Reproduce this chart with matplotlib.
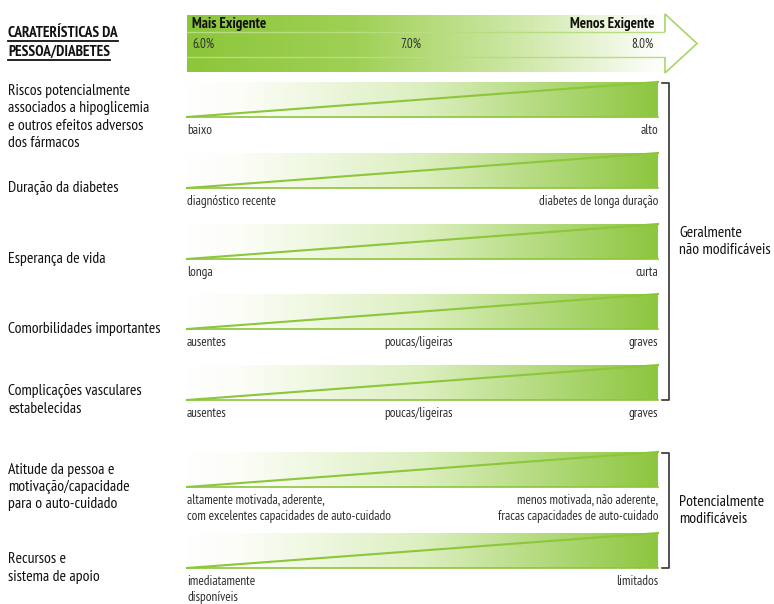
import numpy as np
import matplotlib
matplotlib.use("Agg")
import matplotlib.pyplot as plt
from matplotlib import font_manager as fm
from matplotlib.colors import LinearSegmentedColormap
from matplotlib.patches import Polygon

# ---- data ----
title_lines = ["CARATERÍSTICAS DA", "PESSOA/DIABETES"]
scale_left = "Mais Exigente"
scale_right = "Menos Exigente"
hba1c = [6.0, 7.0, 8.0]

row_labels = [
    "Riscos potencialmente\nassociados a hipoglicemia\ne outros efeitos adversos\ndos fármacos",
    "Duração da diabetes",
    "Esperança de vida",
    "Comorbilidades importantes",
    "Complicações vasculares\nestabelecidas",
    "Atitude da pessoa e\nmotivação/capacidade\npara o auto-cuidado",
    "Recursos e\nsistema de apoio",
]
low_labels = [
    "baixo", "diagnóstico recente", "longa", "ausentes", "ausentes",
    "altamente motivada, aderente,\ncom excelentes capacidades de auto-cuidado",
    "imediatamente\ndisponíveis",
]
mid_labels = ["", "", "", "poucas/ligeiras", "poucas/ligeiras", "", ""]
high_labels = [
    "alto", "diabetes de longa duração", "curta", "graves", "graves",
    "menos motivada, não aderente,\nfracas capacidades de auto-cuidado",
    "limitados",
]
group_labels = ["Geralmente\nnão modificáveis", "Potencialmente\nmodificáveis"]
group_rows = [(0, 4), (5, 6)]


# ---- pick a narrow font with regular and bold faces, if there is one ----
def _w(f):
    w = f.weight
    if isinstance(w, str):
        w = {"normal": 400, "regular": 400, "book": 400, "bold": 700}.get(w.lower(), 0)
    return w


groups = {}
for f in fm.fontManager.ttflist:
    n = f.name
    if ("Narrow" in n or "Condensed" in n) and "Mono" not in n and "Serif" not in n:
        groups.setdefault(n, []).append(f)
    elif n in ("DejaVu Sans", "Noto Sans", "Open Sans") and f.stretch in ("condensed", "semi-condensed"):
        groups.setdefault(n + "|c", []).append(f)


def _score(item):
    name, fl = item
    ws = [_w(f) for f in fl if f.style == "normal"]
    s = 2 * (400 in ws) + (700 in ws) + 0.5 * ("Sans" in name) + 0.2 * ("Narrow" in name)
    return s


family, stretch = "DejaVu Sans", "normal"
if groups:
    best = max(groups.items(), key=_score)[0]
    if best.endswith("|c"):
        family, stretch = best[:-2], "condensed"
    else:
        family = best
plt.rcParams['font.family'] = [family, 'DejaVu Sans']
plt.rcParams['font.stretch'] = stretch

# ---- layout (pixels) ----
W, H = 774, 604
bar_x0, bar_x1 = 187, 658
bar_h = 35
bar_tops = [82, 153, 224, 294, 365, 452, 533]
arrow_x0, arrow_x1, arrow_tip = 187, 665, 697
arrow_top, arrow_bot = 15, 72
tick_x = [192, 411, 653]
tick_ha = ["left", "center", "right"]

green = "#8dc63f"
line_green = "#8cc63a"
ink = "#111111"
grey_ink = "#2e2e2e"
cmap_bar = LinearSegmentedColormap.from_list(
    "bar", [(0, "#ffffff"), (0.12, "#fbfdf6"), (0.5, "#dcefc0"), (1, green)])
cmap_arrow = LinearSegmentedColormap.from_list(
    "arr", [(0, "#8cc63a"), (0.35, "#9fd055"), (0.7, "#cfe8a8"), (1, "#ffffff")])

fig = plt.figure(figsize=(W / 100, H / 100), dpi=100)
ax = fig.add_axes([0, 0, 1, 1])
renderer = fig.canvas.get_renderer()


def fit_size(text, width, weight="normal", cap=None):
    # font size whose rendered width matches the width
    t = fig.text(0, 0, text, fontsize=10, fontweight=weight)
    w = t.get_window_extent(renderer).width
    t.remove()
    s = 10 * width / w
    return min(s, cap) if cap else s


fs_row = fit_size("associados a hipoglicemia", 142, cap=11.5)
fs_small = fit_size("diabetes de longa duração", 120, cap=10)
fs_group = fit_size("Potencialmente", 85, cap=12.5)
fs_arrow = fit_size("Mais Exigente", 75, weight="bold", cap=11)
fs_title = fit_size("CARATERÍSTICAS DA", 120, weight="bold", cap=11)
fs_tick = fit_size("6.0%", 22, cap=9.5)

grad = np.linspace(0, 1, 512)[None, :]

# top arrow
ax.imshow(grad, cmap=cmap_arrow, aspect="auto", interpolation="bicubic",
          extent=[arrow_x0, arrow_x1, arrow_bot, arrow_top], zorder=1)
mid = (arrow_top + arrow_bot) / 2
y_in1, y_in2 = 32, 57
ax.plot([arrow_x0, arrow_x1], [y_in1, y_in1], color="#b8dc80", lw=1, zorder=2)
ax.plot([arrow_x0, arrow_x1], [y_in2, y_in2], color="#b8dc80", lw=1, zorder=2)
head = Polygon([[arrow_x1, y_in1], [arrow_x1, arrow_top - 1], [arrow_tip, mid],
                [arrow_x1, arrow_bot + 1], [arrow_x1, y_in2]],
               closed=False, facecolor="white", edgecolor="#a9d46a", lw=1.2, zorder=2)
ax.add_patch(head)
ax.text(192, 17, scale_left, fontsize=fs_arrow, fontweight="bold", color=ink,
        va="top", ha="left", zorder=3)
ax.text(654, 17, scale_right, fontsize=fs_arrow, fontweight="bold", color=ink,
        va="top", ha="right", zorder=3)
for v, x, ha in zip(hba1c, tick_x, tick_ha):
    ax.text(x, 44, "{:.1f}%".format(v), fontsize=fs_tick, color=grey_ink,
            va="center", ha=ha, zorder=3)

# title, underlined below
t_y = [33, 52]
for line, y in zip(title_lines, t_y):
    ax.text(8, y, line, fontsize=fs_title, fontweight="bold", color=ink,
            va="center", ha="left")

# rows
for i, top in enumerate(bar_tops):
    bot = top + bar_h
    ax.imshow(grad, cmap=cmap_bar, aspect="auto", interpolation="bicubic",
              extent=[bar_x0, bar_x1, bot, top], zorder=1)
    ax.plot([bar_x0, bar_x1], [bot, top], color=line_green, lw=1.5, zorder=2)
    ax.plot([bar_x0, bar_x1], [bot, bot], color=line_green, lw=1.2, zorder=2)
    ax.text(8, bot, row_labels[i], fontsize=fs_row, color=ink,
            va="center", ha="left", linespacing=1.3)
    ly = bot + 7
    ax.text(bar_x0, ly, low_labels[i], fontsize=fs_small, color=grey_ink,
            va="top", ha="left", linespacing=1.3)
    ax.text(bar_x1, ly, high_labels[i], fontsize=fs_small, color=grey_ink,
            va="top", ha="right", linespacing=1.3)
    if mid_labels[i]:
        ax.text((bar_x0 + bar_x1) / 2 - 4, ly, mid_labels[i], fontsize=fs_small,
                color=grey_ink, va="top", ha="center")

# group brackets
for (a, b), label in zip(group_rows, group_labels):
    y0 = bar_tops[a] + 1
    y1 = bar_tops[b] + bar_h
    bx = 669
    ax.plot([bx - 7, bx, bx, bx - 7], [y0, y0, y1, y1], color="#333333", lw=1.2)
    ax.text(679, (y0 + y1) / 2, label, fontsize=fs_group, color=ink,
            va="center", ha="left", linespacing=1.3)

ax.set_xlim(0, W)
ax.set_ylim(H, 0)
ax.axis("off")

# underline the title lines
fig.canvas.draw()
inv = ax.transData.inverted()
for t in ax.texts:
    if t.get_text() in title_lines:
        bb = t.get_window_extent()
        (x0, yb), (x1, _) = inv.transform([[bb.x0, bb.y0], [bb.x1, bb.y1]])
        ax.plot([x0, x1], [yb + 1, yb + 1], color=ink, lw=1.3)

fig.savefig("out.png", dpi=100)
